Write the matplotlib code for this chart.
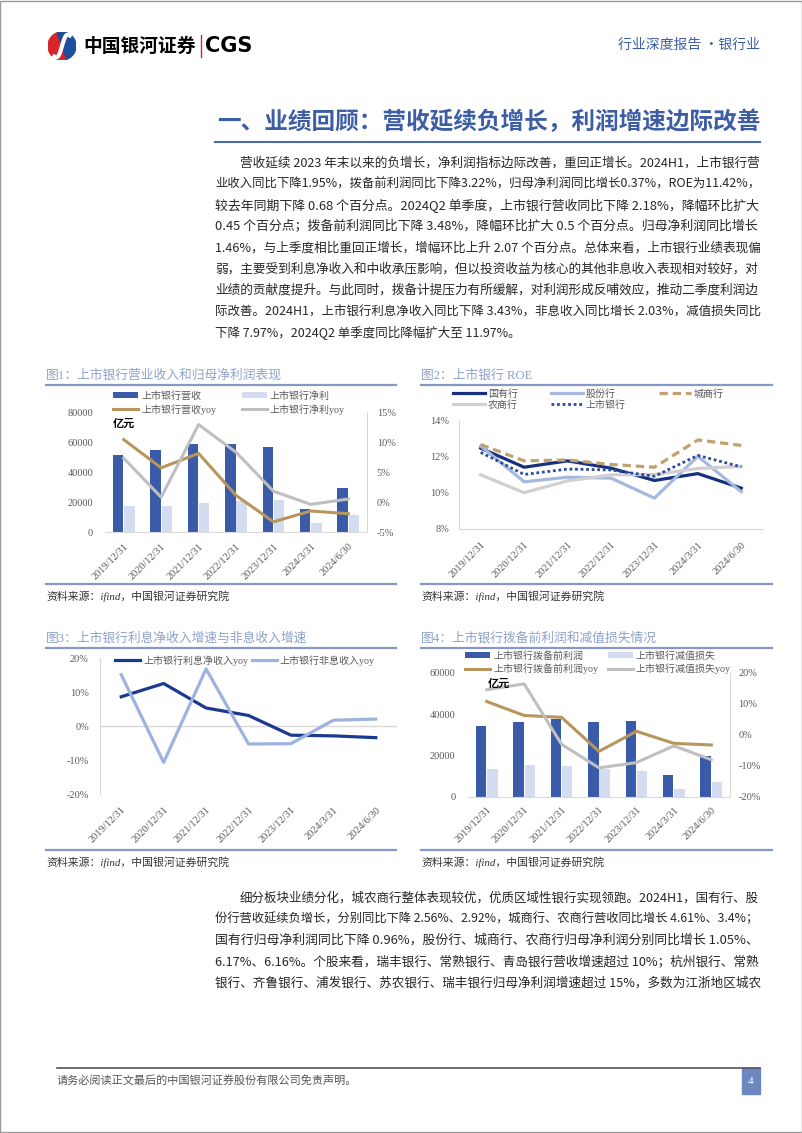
import matplotlib
matplotlib.use('Agg')
import matplotlib.pyplot as plt
import numpy as np
from matplotlib.font_manager import FontProperties
from matplotlib.patches import Rectangle, Wedge
from matplotlib.lines import Line2D

W, H = 802, 1133
plt.rcParams['font.family'] = ['Liberation Serif', 'Noto Sans CJK SC']
plt.rcParams['lines.scale_dashes'] = False

# ---- data ----
dates = ['2019/12/31', '2020/12/31', '2021/12/31', '2022/12/31',
         '2023/12/31', '2024/3/31', '2024/6/30']

# fig1 (亿元 / %)
revenue = [51500, 54500, 58500, 58800, 57000, 15500, 29500]
net_profit = [17500, 17600, 19500, 21000, 21500, 6200, 11500]
revenue_yoy = [10.4, 5.7, 8.1, 1.1, -3.3, -1.5, -1.95]
profit_yoy = [7.3, 0.8, 12.9, 8.3, 1.8, -0.4, 0.5]

# fig2 ROE (%)
roe_state = [12.45, 11.4, 11.75, 11.35, 10.67, 11.05, 10.25]
roe_joint = [12.57, 10.6, 10.85, 10.8, 9.7, 12.0, 10.05]
roe_city = [12.65, 11.75, 11.8, 11.55, 11.4, 12.9, 12.6]
roe_rural = [10.98, 10.0, 10.65, 10.98, 11.0, 11.33, 11.45]
roe_all = [12.22, 11.0, 11.3, 11.25, 10.9, 12.05, 11.42]

# fig3 (%)
nii_yoy = [8.6, 12.5, 5.3, 3.1, -2.7, -2.9, -3.43]
nonii_yoy = [15.1, -10.7, 16.8, -5.3, -5.2, 1.7, 2.03]

# fig4 (亿元 / %)
ppop = [34300, 36300, 37800, 36100, 36600, 10500, 20000]
impair = [13400, 15700, 15000, 13400, 12400, 4000, 7300]
ppop_yoy = [10.8, 6.3, 5.7, -5.3, 1.2, -2.7, -3.22]
impair_yoy = [14.6, 16.5, -3.0, -10.6, -8.9, -3.5, -7.97]

para1 = [
    '营收延续 2023 年末以来的负增长，净利润指标边际改善，重回正增长。2024H1，上市银行营',
    '业收入同比下降1.95%，拨备前利润同比下降3.22%，归母净利润同比增长0.37%，ROE为11.42%，',
    '较去年同期下降 0.68 个百分点。2024Q2 单季度，上市银行营收同比下降 2.18%，降幅环比扩大',
    '0.45 个百分点；拨备前利润同比下降 3.48%，降幅环比扩大 0.5 个百分点。归母净利润同比增长',
    '1.46%，与上季度相比重回正增长，增幅环比上升 2.07 个百分点。总体来看，上市银行业绩表现偏',
    '弱，主要受到利息净收入和中收承压影响，但以投资收益为核心的其他非息收入表现相对较好，对',
    '业绩的贡献度提升。与此同时，拨备计提压力有所缓解，对利润形成反哺效应，推动二季度利润边',
    '际改善。2024H1，上市银行利息净收入同比下降 3.43%，非息收入同比增长 2.03%，减值损失同比',
    '下降 7.97%，2024Q2 单季度同比降幅扩大至 11.97%。',
]
para2 = [
    '细分板块业绩分化，城农商行整体表现较优，优质区域性银行实现领跑。2024H1，国有行、股',
    '份行营收延续负增长，分别同比下降 2.56%、2.92%，城商行、农商行营收同比增长 4.61%、3.4%；',
    '国有行归母净利润同比下降 0.96%，股份行、城商行、农商行归母净利润分别同比增长 1.05%、',
    '6.17%、6.16%。个股来看，瑞丰银行、常熟银行、青岛银行营收增速超过 10%；杭州银行、常熟',
    '银行、齐鲁银行、浦发银行、苏农银行、瑞丰银行归母净利润增速超过 15%，多数为江浙地区城农',
]

DARK = '#3A5BA8'
LIGHT = '#D3DCF0'
GOLD = '#B8955A'
GRAY = '#BFBFBF'
AXC = '#D9D9D9'
TICKC = '#595959'
TITLEC = '#8EA2CA'
RULEC = '#8698C4'
BLUE = '#3D5DA5'

fig = plt.figure(figsize=(W / 100, H / 100), dpi=100)
renderer = fig.canvas.get_renderer()


def px_axes(x0, y0, x1, y1):
    return fig.add_axes([x0 / W, 1 - y1 / H, (x1 - x0) / W, (y1 - y0) / H])


def ftext(x, y, s, **kw):
    kw.setdefault('va', 'center')
    return fig.text(x / W, 1 - y / H, s, **kw)


def hline(x0, x1, y, color, lw):
    fig.add_artist(Line2D([x0 / W, x1 / W], [1 - y / H, 1 - y / H], color=color, lw=lw))


def frame(x0, x1, y_title, y_bottom, title):
    ftext(x0, y_title, title, fontsize=9.2, color=TITLEC)
    hline(x0, x1, y_title + 10, RULEC, 1.6)
    hline(x0, x1, y_bottom, RULEC, 1.6)
    ftext(x0, y_bottom + 12, '资料来源：ifind，中国银河证券研究院', fontsize=7.8,
          style='italic', color='#333333')


def style_ax(ax, pad):
    for s in ax.spines.values():
        s.set_visible(False)
    ax.tick_params(length=0, labelsize=7.5, labelcolor=TICKC, pad=pad)


def date_ticks(ax, pad):
    ax.set_xticks(np.arange(len(dates)))
    ax.set_xticklabels(dates, rotation=45, ha='right', va='top',
                       rotation_mode='anchor', fontsize=7.5, color=TICKC)
    ax.tick_params(axis='x', pad=pad)


# page border
fig.add_artist(Rectangle((0.0005, 0.0005), 0.999, 0.999, transform=fig.transFigure,
                         fill=False, edgecolor='#9A9A9A', lw=1))

# ---- header ----
lax = px_axes(47, 32, 77, 60)
lax.set_xlim(-1, 1)
lax.set_ylim(-1, 1)
lax.set_aspect('equal')
lax.axis('off')
lax.add_patch(Wedge((0, 0), 1, 110, 290, color='#D7262B'))
lax.add_patch(Wedge((0, 0), 1, 290, 470, color='#1D4E9E'))
t = np.linspace(0, 1, 40)
lax.plot(0.55 - 1.1 * t, 0.75 - 1.5 * t + 0.35 * np.sin(2 * np.pi * t), color='white', lw=3)
ftext(83, 46, '中国银河证券', fontsize=13.5, fontweight='bold', family='Noto Sans CJK SC')
fig.add_artist(Line2D([201 / W, 201 / W], [1 - 35 / H, 1 - 57 / H], color='#D7262B', lw=1))
ftext(205, 46, 'CGS', fontsize=15, fontweight='bold', family='DejaVu Sans')
ftext(760, 45, '行业深度报告 ·银行业', ha='right', fontsize=10, color=BLUE,
      family='Noto Sans CJK SC')

ftext(760, 122, '一、业绩回顾：营收延续负增长，利润增速边际改善', ha='right', fontsize=17,
      fontweight='bold', color=BLUE, family='Noto Sans CJK SC')
hline(215, 760, 142, '#4B6BB0', 1.5)

# ---- body text ----
BODY = FontProperties(family='Noto Sans CJK SC', size=9)


def paragraph(lines, y0, step, last_full):
    for i, s in enumerate(lines):
        x0 = 240 if i == 0 else 215
        size = 9
        if i < len(lines) - 1 or last_full:
            w = renderer.get_text_width_height_descent(s, BODY, ismath=False)[0]
            size = min(9.8, max(8.2, 9 * (760 - x0) / w))
        ftext(x0, y0 + i * step, s, fontsize=size, color='#262626', family='Noto Sans CJK SC')


paragraph(para1, 163, 21.25, False)
paragraph(para2, 898, 21.25, True)

x = np.arange(len(dates))

# ---- fig1 ----
frame(46, 396, 375, 584, '图1：上市银行营业收入和归母净利润表现')
ax1 = px_axes(105, 412, 367, 532)
b1 = ax1.bar(x - 0.15, revenue, 0.28, color=DARK)
b2 = ax1.bar(x + 0.15, net_profit, 0.28, color=LIGHT)
ax1.set_xlim(-0.5, 6.5)
ax1.set_ylim(0, 80000)
ax1.set_yticks([0, 20000, 40000, 60000, 80000])
ax1.set_yticklabels(['0', '20000', '40000', '60000', '80000'])
style_ax(ax1, 8.5)
ax1.spines['bottom'].set_visible(True)
ax1.spines['bottom'].set_color(AXC)
date_ticks(ax1, 7)
ax1b = ax1.twinx()
l1, = ax1b.plot(x, revenue_yoy, color=GOLD, lw=2.2)
l2, = ax1b.plot(x, profit_yoy, color=GRAY, lw=2.2)
ax1b.set_ylim(-5, 15)
ax1b.set_yticks([-5, 0, 5, 10, 15])
ax1b.set_yticklabels(['-5%', '0%', '5%', '10%', '15%'])
style_ax(ax1b, 7)
ax1b.spines['right'].set_visible(True)
ax1b.spines['right'].set_color(AXC)
ftext(113, 423, '亿元', fontsize=8, fontweight='bold', family='Noto Sans CJK SC')
fig.legend([b1, l1, b2, l2], ['上市银行营收', '上市银行营收yoy', '上市银行净利', '上市银行净利yoy'],
           ncol=2, loc='upper left', bbox_to_anchor=(113 / W, 1 - 391 / H), frameon=False,
           fontsize=7.2, handlelength=2.5, handleheight=0.6, handletextpad=0.3,
           columnspacing=2.6, labelspacing=0.35, borderpad=0, borderaxespad=0,
           labelcolor=TICKC)

# ---- fig2 ----
frame(421, 772, 375, 584, '图2：上市银行 ROE')
ax2 = px_axes(459, 420, 763, 529)
r1, = ax2.plot(x, roe_state, color='#16307F', lw=2.3)
r2, = ax2.plot(x, roe_joint, color='#A4B8E0', lw=2.3)
r3, = ax2.plot(x, roe_city, color='#C0A26E', lw=2.3, linestyle=(0, (6, 3.5)))
r4, = ax2.plot(x, roe_rural, color='#D0D0D0', lw=2.3)
r5, = ax2.plot(x, roe_all, color='#2A4A9E', lw=2, linestyle=(0, (2, 2)))
ax2.set_xlim(-0.5, 6.5)
ax2.set_ylim(8, 14)
ax2.set_yticks([8, 10, 12, 14])
ax2.set_yticklabels(['8%', '10%', '12%', '14%'])
style_ax(ax2, 7)
for s in ('left', 'bottom'):
    ax2.spines[s].set_visible(True)
    ax2.spines[s].set_color(AXC)
date_ticks(ax2, 8)
fig.legend([r1, r4, r2, r5, r3], ['国有行', '农商行', '股份行', '上市银行', '城商行'],
           ncol=3, loc='upper left', bbox_to_anchor=(453 / W, 1 - 389 / H), frameon=False,
           fontsize=7.2, handlelength=3.2, handletextpad=0.3, columnspacing=3.3,
           labelspacing=0.15, borderpad=0, borderaxespad=0, labelcolor=TICKC)

# ---- fig3 ----
frame(46, 396, 638, 850, '图3：上市银行利息净收入增速与非息收入增速')
ax3 = px_axes(100, 658, 397, 794)
n1, = ax3.plot(x, nii_yoy, color='#1A3A8F', lw=2.3)
n2, = ax3.plot(x, nonii_yoy, color='#9DB3DE', lw=2.3)
ax3.axhline(0, color=AXC, lw=1, zorder=0)
ax3.set_xlim(-0.5, 6.5)
ax3.set_ylim(-20, 20)
ax3.set_yticks([-20, -10, 0, 10, 20])
ax3.set_yticklabels(['-20%', '-10%', '0%', '10%', '20%'])
style_ax(ax3, 8)
ax3.spines['left'].set_visible(True)
ax3.spines['left'].set_color(AXC)
date_ticks(ax3, 8)
fig.legend([n1, n2], ['上市银行利息净收入yoy', '上市银行非息收入yoy'],
           ncol=2, loc='upper left', bbox_to_anchor=(115 / W, 1 - 655 / H), frameon=False,
           fontsize=7.2, handlelength=2.5, handletextpad=0.3, columnspacing=0.4,
           borderpad=0, borderaxespad=0, labelcolor=TICKC)

# ---- fig4 ----
frame(421, 772, 638, 850, '图4：上市银行拨备前利润和减值损失情况')
ax4 = px_axes(468, 673, 730, 797)
c1 = ax4.bar(x - 0.15, ppop, 0.28, color=DARK)
c2 = ax4.bar(x + 0.15, impair, 0.28, color=LIGHT)
ax4.set_xlim(-0.5, 6.5)
ax4.set_ylim(0, 60000)
ax4.set_yticks([0, 20000, 40000, 60000])
ax4.set_yticklabels(['0', '20000', '40000', '60000'])
style_ax(ax4, 9)
ax4.spines['bottom'].set_visible(True)
ax4.spines['bottom'].set_color(AXC)
date_ticks(ax4, 6)
ax4b = ax4.twinx()
k1, = ax4b.plot(x, ppop_yoy, color=GOLD, lw=2.2)
k2, = ax4b.plot(x, impair_yoy, color=GRAY, lw=2.2)
ax4b.set_ylim(-20, 20)
ax4b.set_yticks([-20, -10, 0, 10, 20])
ax4b.set_yticklabels(['-20%', '-10%', '0%', '10%', '20%'])
style_ax(ax4b, 6)
ax4b.spines['right'].set_visible(True)
ax4b.spines['right'].set_color(AXC)
ftext(488, 683, '亿元', fontsize=8, fontweight='bold', family='Noto Sans CJK SC')
fig.legend([c1, k1, c2, k2], ['上市银行拨备前利润', '上市银行拨备前利润yoy', '上市银行减值损失',
                              '上市银行减值损失yoy'],
           ncol=2, loc='upper left', bbox_to_anchor=(465 / W, 1 - 651 / H), frameon=False,
           fontsize=7.2, handlelength=2.5, handleheight=0.6, handletextpad=0.3,
           columnspacing=1.0, labelspacing=0.3, borderpad=0, borderaxespad=0,
           labelcolor=TICKC)

# ---- footer ----
hline(57, 760, 1068, '#555555', 1.2)
ftext(57, 1081, '请务必阅读正文最后的中国银河证券股份有限公司免责声明。', fontsize=8,
      color='#555555', family='Noto Sans CJK SC')
fig.add_artist(Rectangle((742 / W, 1 - 1094 / H), 18 / W, 26 / H, transform=fig.transFigure,
                         color='#6E87C0'))
ftext(751, 1081, '4', ha='center', fontsize=8, color='white')

fig.savefig('out.png', dpi=100)
